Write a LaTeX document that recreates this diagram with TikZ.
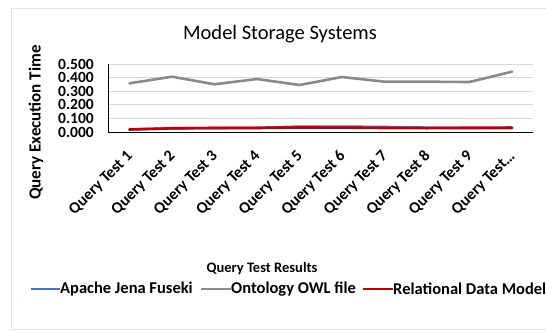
\documentclass[tikz,border=0pt]{standalone}
\usepackage{fontspec}
\setmainfont{Carlito}
\definecolor{jenablue}{HTML}{4472C4}
\definecolor{owlgray}{HTML}{8A8A8A}
\definecolor{relred}{HTML}{C00000}
\definecolor{gridgray}{HTML}{D9D9D9}
\definecolor{framegray}{HTML}{E3E3E3}
\begin{document}
\begin{tikzpicture}[x=1pt,y=-1pt,
  frame/.style={draw=framegray,line width=0.8pt},
  gridline/.style={draw=gridgray,line width=0.8pt},
  axisline/.style={draw=black,line width=0.8pt},
  series/.style={line width=2.6pt,line join=round,line cap=round},
  ticklbl/.style={anchor=east,inner sep=0pt,font=\fontsize{15.5}{15.5}\selectfont\bfseries},
  catlbl/.style={anchor=east,rotate=45,inner sep=0pt,font=\fontsize{16}{16}\selectfont\bfseries},
  legtext/.style={anchor=west,inner sep=0pt,font=\fontsize{16.5}{16.5}\selectfont\bfseries},
  legline/.style={line width=2.6pt}
]
\useasboundingbox (0,0) rectangle (546,330);
% chart frame (right side runs off the page)
\draw[frame] (560,8) -- (11.5,8) -- (11.5,329) -- (560,329);

% title
\node[font=\fontsize{20.5}{20.5}\selectfont] (title) at (280,34) {Model Storage Systems};

% gridlines, 0.1 = 13.6
\foreach \v in {1,...,5}
  \draw[gridline] (108,132-13.6*\v) -- (533,132-13.6*\v);
\draw[axisline] (108,64) -- (108,132) -- (533,132);

% value axis labels
\foreach \v/\t in {0/0.000,1/0.100,2/0.200,3/0.300,4/0.400,5/0.500}
  \node[ticklbl] (yt\v) at (94,132-13.6*\v) {\t};
\node[rotate=90,font=\fontsize{17}{17}\selectfont\bfseries] (ytitle) at (36,122.5) {Query Execution Time};

% category labels
\foreach \i in {1,...,9}
  \node[catlbl] (xc\i) at (129.5+42.5*\i-42.5+1,154) {Query Test \i};
\node[catlbl] (xc10) at (129.5+42.5*9+1,154) {Query Test…};

% series (x = 129.5 + 42.5*(i-1), y = 132 - 136*value)
\draw[series,owlgray] plot coordinates {
  (129.5,83.3) (172,76.7) (214.5,84.3) (257,79) (299.5,85)
  (342,77) (384.5,81.7) (427,81.7) (469.5,82) (512,71.7)};
\draw[series,jenablue] plot coordinates {
  (129.5,129.3) (172,128.4) (214.5,128) (257,127.8) (299.5,126.6)
  (342,126.6) (384.5,127) (427,127.6) (469.5,127.8) (512,127.5)};
\draw[series,relred] plot coordinates {
  (129.5,129.5) (172,128.3) (214.5,128) (257,128) (299.5,127.5)
  (342,127.6) (384.5,128) (427,128.2) (469.5,128) (512,128)};

% axis title and legend
\node[font=\fontsize{14.5}{14.5}\selectfont\bfseries] (xtitle) at (262,269) {Query Test Results};
\node[legtext] (legA) at (60,289) {Apache Jena Fuseki};
\node[legtext] (legB) at (231,289) {Ontology OWL file};
\node[legtext] (legC) at (393,289) {Relational Data Model};
\coordinate (kA) at (31,289);
\coordinate (kB) at (201,289);
\coordinate (kC) at (363,289);
\draw[legline,jenablue] (kA) -- (legA.west);
\draw[legline,owlgray] (kB) -- (legB.west);
\draw[legline,relred] (kC) -- (legC.west);
\end{tikzpicture}
\end{document}
